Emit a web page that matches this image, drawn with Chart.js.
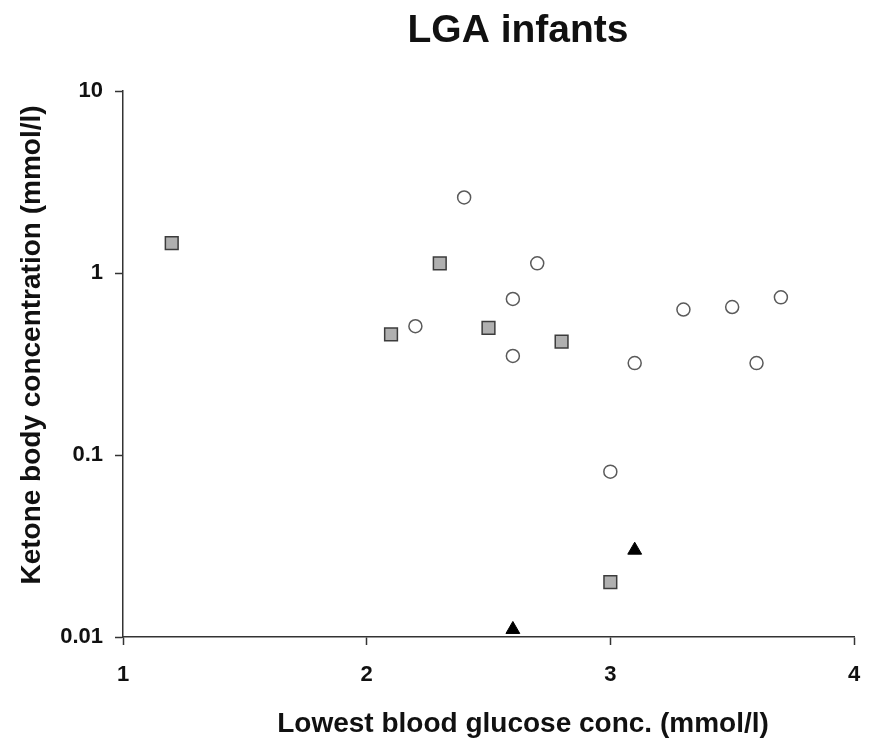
<!DOCTYPE html>
<html>
<head>
<meta charset="utf-8">
<script src="https://cdn.jsdelivr.net/npm/chart.js@4.4.1/dist/chart.umd.min.js"></script>
<style>
    body { margin: 0; background: #fff; }
    #wrap { width: 871px; height: 738px; position: relative; }
</style>
</head>
<body>
<div id="wrap"><canvas id="lga-chart"></canvas></div>
<script>
// values
const squareX = [1.2, 2.1, 2.3, 2.5, 2.8, 3.0];
const squareY = [1.46, 0.46, 1.13, 0.50, 0.42, 0.020];
const circleX = [2.2, 2.4, 2.6, 2.6, 2.7, 3.0, 3.1, 3.3, 3.5, 3.6, 3.7];
const circleY = [0.51, 2.6, 0.72, 0.35, 1.13, 0.081, 0.32, 0.63, 0.65, 0.32, 0.735];
const triangleX = [2.6, 3.1];
const triangleY = [0.011, 0.030];

const yTicks = [0.01, 0.1, 1, 10];
const xTicks = [1, 2, 3, 4];

const chartTitle = "LGA infants";
const xTitle = "Lowest blood glucose conc. (mmol/l)";
const yTitle = "Ketone body concentration (mmol/l)";

const FONT = '"Liberation Sans", Arial, sans-serif';

function toPoints(xs, ys) {
    return xs.map((x, i) => ({ x: x, y: ys[i] }));
}

// titles are drawn off-centre in the original, so place them by hand
const titlesPlugin = {
    id: "titles",
    afterDraw(chart) {
        const ctx = chart.ctx;
        ctx.save();
        ctx.fillStyle = "#111";
        ctx.textAlign = "center";
        ctx.textBaseline = "alphabetic";

        ctx.font = "bold 39px " + FONT;
        ctx.fillText(chartTitle, 518, 42);

        ctx.font = "bold 28px " + FONT;
        ctx.fillText(xTitle, 523, 732);

        ctx.translate(40, 345);
        ctx.rotate(-Math.PI / 2);
        ctx.fillText(yTitle, 0, 0);
        ctx.restore();
    }
};

const ctx = document.getElementById("lga-chart").getContext("2d");

new Chart(ctx, {
    type: "scatter",
    data: {
        datasets: [
            {
                label: "Squares",
                data: toPoints(squareX, squareY),
                pointStyle: "rect",
                pointRadius: 9,
                backgroundColor: "#b0b0b0",
                borderColor: "#3c3c3c",
                borderWidth: 1.5
            },
            {
                label: "Circles",
                data: toPoints(circleX, circleY),
                pointStyle: "circle",
                pointRadius: 6.5,
                backgroundColor: "#ffffff",
                borderColor: "#5a5a5a",
                borderWidth: 1.5
            },
            {
                label: "Triangles",
                data: toPoints(triangleX, triangleY),
                pointStyle: "triangle",
                pointRadius: 8,
                backgroundColor: "#000000",
                borderColor: "#000000",
                borderWidth: 1
            }
        ]
    },
    options: {
        responsive: true,
        maintainAspectRatio: false,
        animation: false,
        clip: false,
        layout: {
            padding: { top: 91, left: 60, right: 17, bottom: 0 }
        },
        plugins: {
            legend: { display: false },
            tooltip: { enabled: false },
            title: { display: false }
        },
        scales: {
            x: {
                type: "linear",
                min: 1,
                max: 4,
                afterBuildTicks: scale => {
                    scale.ticks = xTicks.map(v => ({ value: v }));
                },
                afterFit: scale => {
                    scale.height = 101;
                    scale.paddingLeft = 0;
                    scale.paddingRight = 0;
                },
                border: { display: true, color: "#333", width: 1.5 },
                grid: {
                    drawOnChartArea: false,
                    drawTicks: true,
                    tickLength: 8,
                    tickColor: "#333",
                    tickWidth: 1.5
                },
                ticks: {
                    padding: 17,
                    color: "#111",
                    font: { family: FONT, size: 22, weight: "bold" }
                }
            },
            y: {
                type: "logarithmic",
                min: 0.01,
                max: 10,
                afterBuildTicks: scale => {
                    scale.ticks = yTicks.map(v => ({ value: v }));
                },
                afterFit: scale => {
                    scale.width = 63;
                    scale.paddingTop = 0;
                    scale.paddingBottom = 0;
                },
                border: { display: true, color: "#333", width: 1.5 },
                grid: {
                    drawOnChartArea: false,
                    drawTicks: true,
                    tickLength: 8,
                    tickColor: "#333",
                    tickWidth: 1.5
                },
                ticks: {
                    padding: 12,
                    color: "#111",
                    font: { family: FONT, size: 22, weight: "bold" },
                    callback: value => String(value)
                }
            }
        }
    },
    plugins: [titlesPlugin]
});
</script>
</body>
</html>
